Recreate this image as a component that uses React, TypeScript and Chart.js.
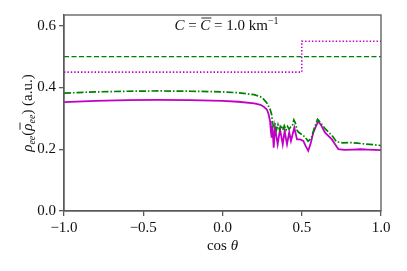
import { useEffect, useRef } from "react";
import { Chart, registerables } from "chart.js";
Chart.register(...registerables);

// ---- data ----
const xTicks = [-1, -0.5, 0, 0.5, 1];
const yTicks = [0, 0.2, 0.4, 0.6];

const greenX = [-1, -0.8, -0.6, -0.4, -0.2, 0.0, 0.1, 0.2, 0.25, 0.28, 0.29, 0.3, 0.31, 0.315, 0.32, 0.33, 0.34, 0.35, 0.36, 0.37, 0.38, 0.39, 0.4, 0.41, 0.42, 0.43, 0.44, 0.45, 0.46, 0.47, 0.48, 0.5, 0.52, 0.54, 0.56, 0.58, 0.6, 0.62, 0.65, 0.69, 0.72, 0.76, 0.8, 0.85, 0.9, 0.95, 1.0];
const greenY = [0.382, 0.386, 0.388, 0.389, 0.388, 0.386, 0.383, 0.377, 0.368, 0.35, 0.34, 0.33, 0.313, 0.29, 0.275, 0.285, 0.262, 0.28, 0.263, 0.278, 0.262, 0.276, 0.262, 0.274, 0.265, 0.272, 0.275, 0.295, 0.285, 0.262, 0.255, 0.248, 0.24, 0.226, 0.235, 0.27, 0.297, 0.285, 0.265, 0.245, 0.224, 0.221, 0.222, 0.22, 0.217, 0.215, 0.212];

const magentaX = [-1, -0.8, -0.6, -0.4, -0.2, 0, 0.1, 0.2, 0.24, 0.26, 0.28, 0.29, 0.3, 0.305, 0.31, 0.315, 0.323, 0.331, 0.348, 0.363, 0.38, 0.392, 0.407, 0.421, 0.432, 0.453, 0.47, 0.49, 0.51, 0.525, 0.541, 0.557, 0.573, 0.59, 0.605, 0.625, 0.647, 0.69, 0.731, 0.77, 0.82, 0.87, 0.92, 0.96, 1.0];
const magentaY = [0.353, 0.357, 0.359, 0.36, 0.359, 0.357, 0.354, 0.349, 0.344, 0.338, 0.329, 0.315, 0.291, 0.26, 0.238, 0.275, 0.205, 0.271, 0.216, 0.265, 0.216, 0.259, 0.216, 0.255, 0.227, 0.27, 0.232, 0.232, 0.227, 0.21, 0.195, 0.22, 0.254, 0.275, 0.291, 0.275, 0.254, 0.232, 0.2, 0.198, 0.199, 0.2, 0.199, 0.198, 0.197];

const dashedX = [-1, 1];
const dashedY = [0.5, 0.5];

const stepX = [-1, 0.5, 0.5, 1];
const stepY = [0.45, 0.45, 0.55, 0.55];

const GREEN = "#008000";
const MAGENTA = "#c000c8";
const AXIS = "#5a5a5a";
const SERIF = "'Liberation Serif', 'DejaVu Serif', serif";

type Seg = { text: string; font: string; dy?: number; bar?: boolean };

function drawRich(ctx: CanvasRenderingContext2D, segs: Seg[], cx: number, cy: number) {
  let total = 0;
  const widths = segs.map((s) => {
    ctx.font = s.font;
    const w = ctx.measureText(s.text).width;
    total += w;
    return w;
  });
  let x = cx - total / 2;
  ctx.textBaseline = "alphabetic";
  ctx.textAlign = "left";
  segs.forEach((s, i) => {
    ctx.font = s.font;
    ctx.fillText(s.text, x, cy + (s.dy || 0));
    if (s.bar) {
      ctx.save();
      ctx.lineWidth = 0.9;
      ctx.beginPath();
      ctx.moveTo(x + 1, cy - 12);
      ctx.lineTo(x + widths[i] + 1, cy - 12);
      ctx.stroke();
      ctx.restore();
    }
    x += widths[i];
  });
}

const decorPlugin = {
  id: "decor",
  afterDraw(chart: any) {
    const { ctx, chartArea } = chart;
    const { left, right, top, bottom } = chartArea;
    ctx.save();
    ctx.strokeStyle = AXIS;
    ctx.lineWidth = 1.3;
    ctx.strokeRect(left, top, right - left, bottom - top);

    ctx.fillStyle = "#111";
    ctx.strokeStyle = "#111";
    const f = `15px ${SERIF}`;
    const fi = `italic 15px ${SERIF}`;
    const fs = `10px ${SERIF}`;
    const fsi = `italic 10px ${SERIF}`;
    drawRich(
      ctx,
      [
        { text: "C", font: fi },
        { text: " = ", font: f },
        { text: "C", font: fi, bar: true },
        { text: " = 1.0 km", font: f },
        { text: "−1", font: fs, dy: -6 },
      ],
      (left + right) / 2 + 4,
      30
    );

    // x-axis title
    drawRich(
      ctx,
      [
        { text: "cos ", font: f },
        { text: "θ", font: fi },
      ],
      (left + right) / 2,
      250
    );

    // y-axis title
    ctx.save();
    ctx.translate(27, (top + bottom) / 2);
    ctx.rotate(-Math.PI / 2);
    drawRich(
      ctx,
      [
        { text: "ρ", font: fi },
        { text: "ee", font: fsi, dy: 3 },
        { text: "(", font: f },
        { text: "ρ", font: fi, bar: true },
        { text: "ee", font: fsi, dy: 3 },
        { text: ") (a.u.)", font: f },
      ],
      0,
      5
    );
    ctx.restore();
    ctx.restore();
  },
};

function pts(xs: number[], ys: number[]) {
  return xs.map((x, i) => ({ x, y: ys[i] }));
}

export default function App() {
  const ref = useRef<HTMLCanvasElement>(null);
  useEffect(() => {
    document.body.style.margin = "0";
    const chart = new Chart(ref.current!, {
      type: "line",
      data: {
        datasets: [
          { data: pts(dashedX, dashedY), borderColor: GREEN, borderWidth: 1.4, borderDash: [5, 2.5], pointRadius: 0 },
          { data: pts(stepX, stepY), borderColor: MAGENTA, borderWidth: 1.6, borderDash: [1.4, 2], pointRadius: 0 },
          { data: pts(greenX, greenY), borderColor: GREEN, borderWidth: 1.7, borderDash: [7, 2, 1.5, 2], pointRadius: 0 },
          { data: pts(magentaX, magentaY), borderColor: MAGENTA, borderWidth: 1.8, pointRadius: 0 },
        ],
      },
      options: {
        animation: false,
        responsive: false,
        events: [],
        layout: { padding: { top: 15, right: 26, left: 0, bottom: 0 } },
        plugins: { legend: { display: false }, tooltip: { enabled: false } },
        scales: {
          x: {
            type: "linear",
            min: -1,
            max: 1,
            afterFit: (s: any) => { s.height = 60; },
            afterBuildTicks: (s: any) => { s.ticks = xTicks.map((v) => ({ value: v })); },
            grid: { drawOnChartArea: false, drawTicks: true, tickLength: 5, color: AXIS, lineWidth: 1.3 },
            border: { color: AXIS, width: 1.3 },
            ticks: {
              color: "#111",
              padding: 3,
              maxRotation: 0,
              font: { family: SERIF, size: 15 },
              callback: (v: any) => (Number(v) < 0 ? "−" : "") + Math.abs(Number(v)).toFixed(1),
            },
          },
          y: {
            type: "linear",
            min: 0,
            max: 0.635,
            afterFit: (s: any) => { s.width = 64; },
            afterBuildTicks: (s: any) => { s.ticks = yTicks.map((v) => ({ value: v })); },
            grid: { drawOnChartArea: false, drawTicks: true, tickLength: 5, color: AXIS, lineWidth: 1.3 },
            border: { color: AXIS, width: 1.3 },
            ticks: {
              color: "#111",
              padding: 3,
              font: { family: SERIF, size: 15 },
              callback: (v: any) => Number(v).toFixed(1),
            },
          },
        },
      },
      plugins: [decorPlugin],
    });
    return () => chart.destroy();
  }, []);
  return (
    <div style={{ position: "absolute", left: 0, top: 0, width: 407, height: 271 }}>
      <canvas ref={ref} width={407} height={271} />
    </div>
  );
}
